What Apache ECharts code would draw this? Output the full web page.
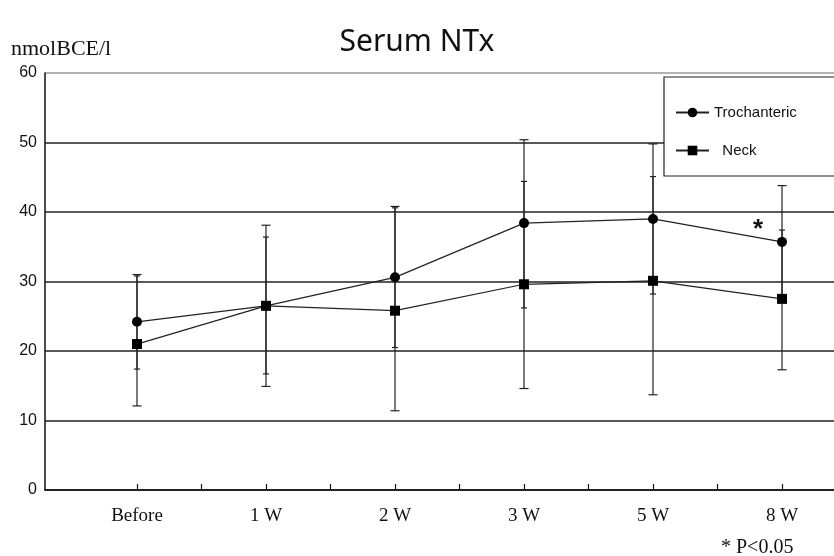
<!DOCTYPE html>
<html>
<head>
<meta charset="utf-8">
<script src="https://cdn.jsdelivr.net/npm/echarts@6/dist/echarts.min.js"></script>
<style>html,body{margin:0;padding:0;background:#fff}#c{width:834px;height:556px}</style>
</head>
<body>
<div id="c"></div>
<script>
var categories = ['Before', '1 W', '2 W', '3 W', '5 W', '8 W'];
var yTicks = [0, 10, 20, 30, 40, 50, 60];
var trochMean  = [24.2, 26.5, 30.6, 38.4, 39.0, 35.7];
var trochUpper = [31.0, 38.1, 40.8, 50.4, 49.8, 43.8];
var trochLower = [17.4, 16.7, 20.5, 26.2, 28.2, 27.6];
var neckMean   = [21.0, 26.5, 25.8, 29.6, 30.1, 27.5];
var neckUpper  = [30.8, 36.4, 40.6, 44.4, 45.1, 37.4];
var neckLower  = [12.1, 14.9, 11.4, 14.6, 13.7, 17.3];
var sigIndex = 5; // * P<0.05 at 8 W (Trochanteric)

var chart = echarts.init(document.getElementById('c'), null, {renderer: 'canvas'});

function pts(arr) { return arr.map(function (v, i) { return [i, v]; }); }
function errData(lo, hi) { return lo.map(function (v, i) { return [i, v, hi[i]]; }); }
function errRender(upCap, loCap) {
  return function (params, api) {
    var x = api.value(0);
    var lo = api.coord([x, api.value(1)]);
    var hi = api.coord([x, api.value(2)]);
    var st = {stroke: '#222', lineWidth: 1.2};
    return {type: 'group', children: [
      {type: 'line', shape: {x1: hi[0], y1: hi[1], x2: lo[0], y2: lo[1]}, style: st},
      {type: 'line', shape: {x1: hi[0] - upCap, y1: hi[1], x2: hi[0] + upCap, y2: hi[1]}, style: st},
      {type: 'line', shape: {x1: lo[0] - loCap, y1: lo[1], x2: lo[0] + loCap, y2: lo[1]}, style: st}
    ]};
  };
}
var tickVals = [];
for (var t = 0; t <= categories.length - 1; t += 0.5) tickVals.push(t);

var trochData = pts(trochMean).map(function (p, i) {
  if (i !== sigIndex) return p;
  return {value: p, label: {show: true, formatter: '*', position: [-24, -20],
    fontSize: 26, fontWeight: 'bold', color: '#111', fontFamily: 'Liberation Sans'}};
});

chart.setOption({
  animation: false,
  backgroundColor: '#fff',
  title: [
    {text: 'Serum NTx', left: 'center', top: 22,
     textStyle: {fontFamily: 'Noto Sans', fontSize: 30, fontWeight: 'normal', color: '#111'}},
    {text: 'nmolBCE/l', left: 6, top: 33,
     textStyle: {fontFamily: 'Liberation Serif', fontSize: 22, fontWeight: 'normal', color: '#111'}},
    {text: '* P<0.05', left: 716, top: 533,
     textStyle: {fontFamily: 'Liberation Serif', fontSize: 20, fontWeight: 'normal', color: '#111'}}
  ],
  legend: {
    orient: 'vertical', left: 664, top: 77,
    padding: [28, 140, 18, 11],
    itemWidth: 33, itemHeight: 12, itemGap: 23,
    backgroundColor: '#fff', borderColor: '#222', borderWidth: 1.2,
    data: ['Trochanteric', 'Neck'],
    formatter: function (n) { return n === 'Neck' ? '  Neck' : n; },
    textStyle: {fontFamily: 'Liberation Sans', fontSize: 15, color: '#111'}
  },
  grid: {left: 45, right: 0, top: 73, bottom: 66},
  xAxis: {
    type: 'value', min: -0.713, max: 5.403,
    splitLine: {show: false},
    axisLine: {lineStyle: {color: '#111', width: 1.5}},
    axisTick: {inside: true, length: 6, customValues: tickVals, lineStyle: {color: '#111', width: 1.2}},
    axisLabel: {customValues: categories.map(function (c, i) { return i; }),
      formatter: function (v) { return categories[Math.round(v)]; },
      margin: 17, fontFamily: 'Liberation Serif', fontSize: 19, color: '#111'}
  },
  yAxis: {
    type: 'value', min: 0, max: 60, interval: 10,
    axisLine: {show: true, onZero: false, lineStyle: {color: '#111', width: 1.5}},
    axisTick: {show: false},
    splitLine: {show: true, lineStyle: {color: ['#222', '#222', '#222', '#222', '#222', '#222', '#999'], width: 1.6}},
    axisLabel: {margin: 8, fontFamily: 'Liberation Sans', fontSize: 16, color: '#111',
      formatter: function (v) { return yTicks.indexOf(v) >= 0 ? String(v) : ''; }}
  },
  series: [
    {type: 'custom', name: 'errT', z: 2, renderItem: errRender(4.5, 3), data: errData(trochLower, trochUpper), silent: true},
    {type: 'custom', name: 'errN', z: 2, renderItem: errRender(3, 4.5), data: errData(neckLower, neckUpper), silent: true},
    {type: 'line', name: 'Trochanteric', z: 5, data: trochData, symbol: 'circle', symbolSize: 10,
     itemStyle: {color: '#000'}, lineStyle: {color: '#222', width: 1.2}},
    {type: 'line', name: 'Neck', z: 5, data: pts(neckMean), symbol: 'rect', symbolSize: 10,
     itemStyle: {color: '#000'}, lineStyle: {color: '#222', width: 1.2}}
  ]
});
</script>
</body>
</html>
